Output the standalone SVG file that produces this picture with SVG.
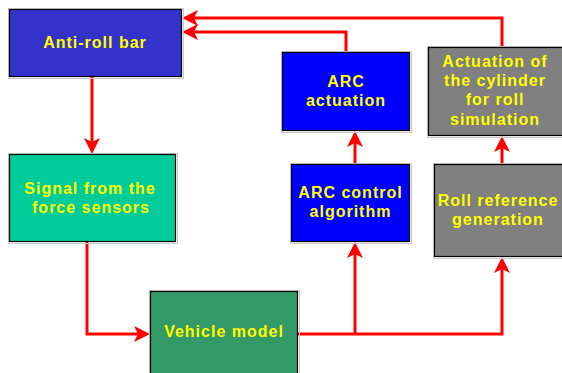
<svg xmlns="http://www.w3.org/2000/svg" width="562" height="373" viewBox="0 0 562 373">
<style>
.sh{fill:none;stroke:#c8c8c8;stroke-width:1}
.box{stroke:#000;stroke-width:1.2}
.t{font-family:"Liberation Sans",Arial,sans-serif;font-weight:bold;font-size:16px;fill:#ffff00;text-anchor:middle;letter-spacing:1px}
.c{fill:none;stroke:#ff0000;stroke-width:3}
</style>
<defs>
<marker id="ah" viewBox="0 0 16 16" refX="8" refY="8" markerWidth="16" markerHeight="16" markerUnits="userSpaceOnUse" orient="auto">
<path d="M16,8 L0,0 L4,8 L0,16 Z" fill="#ff0000"/>
</marker>
</defs>
<rect width="562" height="373" fill="#fff"/>
<g id="connectors">
<path class="c" d="M92,77 V146" marker-end="url(#ah)"/>
<path class="c" d="M87,242 V334 H142" marker-end="url(#ah)"/>
<path class="c" d="M298,334 H502 V265" marker-end="url(#ah)"/>
<path class="c" d="M355,334 V250" marker-end="url(#ah)"/>
<path class="c" d="M355,164 V139" marker-end="url(#ah)"/>
<path class="c" d="M502,164 V144" marker-end="url(#ah)"/>
<path class="c" d="M346,52 V32 H190" marker-end="url(#ah)"/>
<path class="c" d="M502,47 V18 H190" marker-end="url(#ah)"/>
</g>
<g id="anti-roll-bar">
<rect class="sh" x="8.5" y="8.5" width="175" height="70"/>
<rect class="box" x="9.5" y="9.5" width="172" height="67" fill="#3333cc"/>
<text class="t" x="95" y="48">Anti-roll bar</text>
</g>
<g id="signal-force-sensors">
<rect class="sh" x="8.5" y="153.5" width="169" height="90"/>
<rect class="box" x="9.5" y="154.5" width="166" height="87" fill="#00cc99"/>
<text class="t" x="90" y="194">Signal from the</text>
<text class="t" x="91" y="213">force sensors</text>
</g>
<g id="vehicle-model">
<rect class="sh" x="149.5" y="290.5" width="150" height="90"/>
<rect class="box" x="150.5" y="291.5" width="147" height="88" fill="#339966"/>
<text class="t" x="224" y="337">Vehicle model</text>
</g>
<g id="arc-control-algorithm">
<rect class="sh" x="290.5" y="163.5" width="121" height="80"/>
<rect class="box" x="291.5" y="164.5" width="118" height="77" fill="#0000ff"/>
<text class="t" x="350.5" y="198">ARC control</text>
<text class="t" x="350.5" y="217">algorithm</text>
</g>
<g id="arc-actuation">
<rect class="sh" x="281.5" y="51.5" width="130" height="81"/>
<rect class="box" x="282.5" y="52.5" width="127" height="78" fill="#0000ff"/>
<text class="t" x="346" y="87">ARC</text>
<text class="t" x="346" y="106">actuation</text>
</g>
<g id="actuation-cylinder">
<rect class="sh" x="427.5" y="46.5" width="140" height="91"/>
<rect class="box" x="428.5" y="47.5" width="137" height="88" fill="#808080"/>
<text class="t" x="495" y="67">Actuation of</text>
<text class="t" x="495" y="86">the cylinder</text>
<text class="t" x="495" y="105">for roll</text>
<text class="t" x="495" y="125">simulation</text>
</g>
<g id="roll-reference-generation">
<rect class="sh" x="433.5" y="163.5" width="134" height="95"/>
<rect class="box" x="434.5" y="164.5" width="131" height="92" fill="#808080"/>
<text class="t" x="498" y="206">Roll reference</text>
<text class="t" x="498" y="225">generation</text>
</g>
</svg>
